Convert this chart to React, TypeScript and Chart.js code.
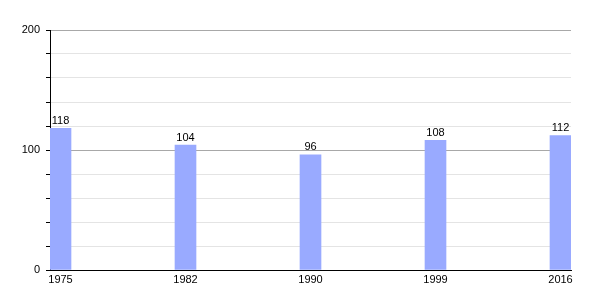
import React, { useEffect, useRef } from "react";
import { Chart, registerables } from "chart.js";

Chart.register(...registerables);

const years = ["1975", "1982", "1990", "1999", "2016"];
const population = [118, 104, 96, 108, 112];
const yTickLabels = [0, 100, 200];

const labelPlugin = {
  id: "barValueLabels",
  afterDatasetsDraw(chart: any) {
    const ctx = chart.ctx;
    const meta = chart.getDatasetMeta(0);
    ctx.save();
    ctx.font = '11px "Liberation Sans", Arial, sans-serif';
    ctx.fillStyle = "#000";
    ctx.textAlign = "center";
    ctx.textBaseline = "bottom";
    meta.data.forEach((bar: any, i: number) => {
      ctx.fillText(String(population[i]), bar.x, bar.y - 2);
    });
    ctx.restore();
  },
};

export default function App() {
  const ref = useRef<HTMLCanvasElement | null>(null);
  useEffect(() => {
    document.body.style.margin = "0";
    const half = 10.5 / 125;
    const chart = new Chart(ref.current as HTMLCanvasElement, {
      type: "bar",
      data: {
        datasets: [
          {
            data: population.map((v, i) => ({ x: i, y: v })),
            backgroundColor: "#99aaff",
            borderWidth: 0,
            barThickness: 21,
          },
        ],
      },
      options: {
        animation: false,
        responsive: false,
        devicePixelRatio: 1,
        layout: { padding: { top: 30, right: 29, left: 0, bottom: 0 } },
        plugins: { legend: { display: false }, tooltip: { enabled: false } },
        scales: {
          x: {
            type: "linear",
            offset: false,
            min: -half,
            max: years.length - 1 + half,
            afterBuildTicks: (scale: any) => {
              scale.ticks = years.map((_, i) => ({ value: i }));
            },
            afterFit: (scale: any) => {
              scale.height = 30;
            },
            ticks: {
              callback: (v: any) => years[Math.round(Number(v))] ?? "",
              color: "#000",
              font: { family: '"Liberation Sans", Arial, sans-serif', size: 11 },
              padding: 3,
              maxRotation: 0,
              autoSkip: false,
            },
            grid: { display: false, drawTicks: false, offset: false },
            border: { display: true, color: "#000", width: 1 },
          },
          y: {
            min: 0,
            max: 200,
            afterFit: (scale: any) => {
              scale.width = 50;
            },
            ticks: {
              stepSize: 20,
              autoSkip: false,
              callback: (v: any) => (yTickLabels.includes(Number(v)) ? String(v) : ""),
              color: "#000",
              font: { family: '"Liberation Sans", Arial, sans-serif', size: 11 },
              padding: 6,
            },
            grid: {
              color: (c: any) => (c.tick && c.tick.value % 100 === 0 ? "#a8a8a8" : "#e4e4e4"),
              tickColor: "#000",
              tickLength: 4,
              drawTicks: true,
            },
            border: { display: true, color: "#000", width: 1 },
          },
        },
      },
      plugins: [labelPlugin],
    });
    return () => chart.destroy();
  }, []);
  return (
    <div style={{ width: 600, height: 300 }}>
      <canvas ref={ref} width={600} height={300} />
    </div>
  );
}
